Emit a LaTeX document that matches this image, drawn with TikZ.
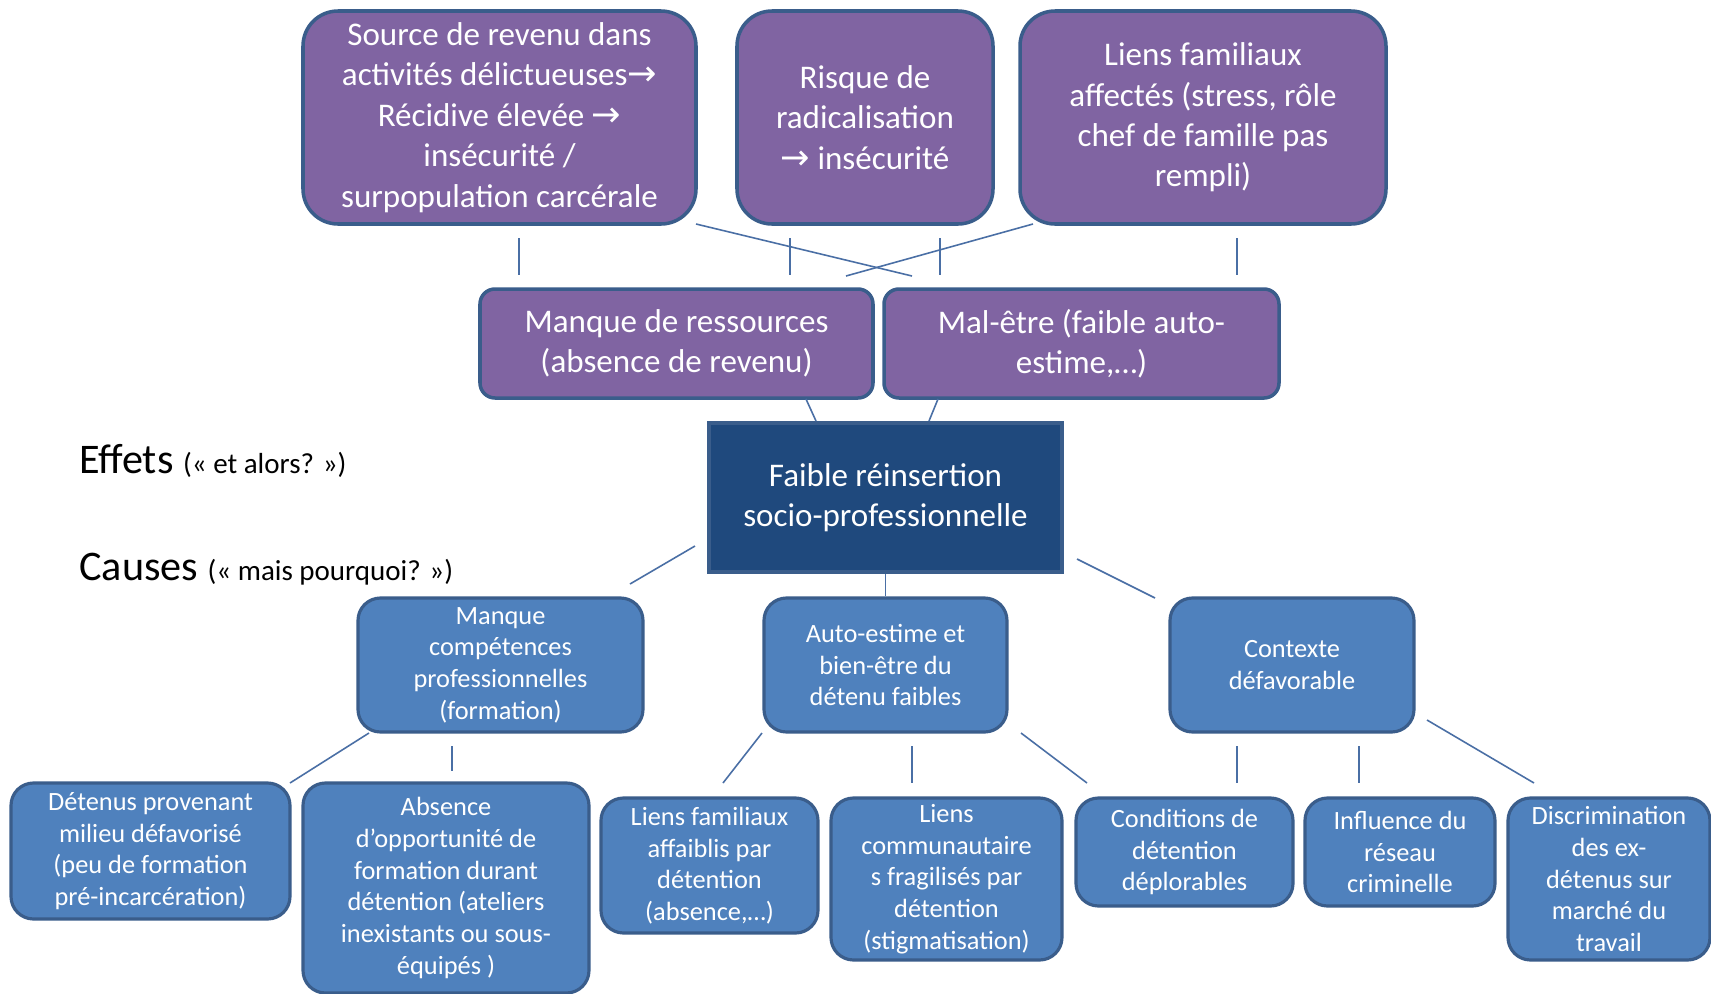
\documentclass[tikz,border=0pt]{standalone}
\usepackage{fontspec}
\setmainfont{Carlito}
\newfontfamily\flechefont{DejaVu Sans}
\usepackage{tikz}
\usetikzlibrary{
  calc,        % 坐标计算
  positioning  % 节点相对定位
}
\definecolor{couleurEffet}{HTML}{8064A2}
\definecolor{couleurCause}{HTML}{4F81BD}
\definecolor{couleurCentre}{HTML}{1F497D}
\definecolor{couleurBord}{HTML}{3A5D8B}
\definecolor{couleurLien}{HTML}{4A6FA5}
\newcommand{\fleche}{{\flechefont\fontsize{20}{23}\selectfont →}}

\begin{document}
\begin{tikzpicture}[
  effet/.style={draw=couleurBord, line width=2pt, fill=couleurEffet, text=white,
    rounded corners=0.7cm, align=center, inner sep=0pt,
    font=\fontsize{18.8}{23}\selectfont},
  cause/.style={draw=couleurBord, line width=1.8pt, fill=couleurCause, text=white,
    rounded corners=0.45cm, align=center, inner sep=0pt,
    font=\fontsize{15}{18}\selectfont},
  lien/.style={couleurLien, line width=0.9pt}
]

  % 背景与边界
  \path[fill=white, use as bounding box] (0,0) rectangle (34.22,-19.88);

  % =========== 效果：上层 ===========
  \node[effet, minimum width=7.86cm, minimum height=4.26cm] (revenu) at (9.99,-2.35)
    {Source de revenu dans\\activités délictueuses\fleche\\Récidive élevée \fleche\\insécurité /\\surpopulation carcérale};
  \node[effet, minimum width=5.12cm, minimum height=4.26cm] (radical) at (17.30,-2.35)
    {Risque de\\radicalisation\\\fleche{} insécurité};
  \node[effet, minimum width=7.32cm, minimum height=4.26cm] (famille) at (24.06,-2.35)
    {Liens familiaux\\affectés (stress, rôle\\chef de famille pas\\rempli)};

  % =========== 效果：中层 ===========
  \node[effet, rounded corners=0.3cm, minimum width=7.86cm, minimum height=2.18cm] (ressources) at (13.53,-6.87)
    {Manque de ressources\\(absence de revenu)};
  \node[effet, rounded corners=0.3cm, minimum width=7.90cm, minimum height=2.18cm] (malaise) at (21.63,-6.87)
    {Mal-être (faible auto-\\estime,…)};

  % =========== 核心问题 ===========
  \node[draw=couleurBord, line width=2pt, fill=couleurCentre, text=white, align=center,
    inner sep=0pt, minimum width=7.06cm, minimum height=2.98cm,
    font=\fontsize{18.8}{23}\selectfont] (centre) at (17.71,-9.95)
    {Faible réinsertion\\socio-professionnelle};

  % 左侧文字
  \node[anchor=base west, inner sep=0pt] (effets) at (1.58,-9.46)
    {\fontsize{24}{28}\selectfont Effets {\fontsize{16.5}{20}\selectfont(« et alors? »)}};
  \node[anchor=base west, inner sep=0pt] (causes) at (1.58,-11.60)
    {\fontsize{24}{28}\selectfont Causes {\fontsize{16.5}{20}\selectfont(« mais pourquoi? »)}};

  % =========== 原因：中层 ===========
  \node[cause, minimum width=5.70cm, minimum height=2.68cm] (competences) at (10.01,-13.30)
    {Manque\\compétences\\professionnelles\\(formation)};
  \node[cause, minimum width=4.86cm, minimum height=2.68cm] (estime) at (17.71,-13.30)
    {Auto-estime et\\bien-être du\\détenu faibles};
  \node[cause, minimum width=4.88cm, minimum height=2.68cm] (contexte) at (25.84,-13.30)
    {Contexte\\défavorable};

  % =========== 原因：下层 ===========
  \node[cause, minimum width=5.58cm, minimum height=2.72cm] (milieu) at (3.01,-17.02)
    {Détenus provenant\\milieu défavorisé\\(peu de formation\\pré-incarcération)};
  \node[cause, minimum width=5.72cm, minimum height=4.20cm] (ateliers) at (8.92,-17.76)
    {Absence\\d’opportunité de\\formation durant\\détention (ateliers\\inexistants ou sous-\\équipés )};
  \node[cause, minimum width=4.34cm, minimum height=2.70cm] (liensfam) at (14.19,-17.31)
    {Liens familiaux\\affaiblis par\\détention\\(absence,…)};
  \node[cause, minimum width=4.62cm, minimum height=3.24cm] (communaute) at (18.93,-17.58)
    {Liens\\communautaire\\s fragilisés par\\détention\\(stigmatisation)};
  \node[cause, minimum width=4.34cm, minimum height=2.16cm] (conditions) at (23.69,-17.04)
    {Conditions de\\détention\\déplorables};
  \node[cause, minimum width=3.80cm, minimum height=2.16cm] (reseau) at (28.00,-17.04)
    {Influence du\\réseau\\criminelle};
  \node[cause, minimum width=4.04cm, minimum height=3.24cm] (discrim) at (32.18,-17.58)
    {Discrimination\\des ex-\\détenus sur\\marché du\\travail};

  % =========== 连线：上层 ===========
  \coordinate (r1) at (10.38,-4.76);  \coordinate (r2) at (10.38,-5.50);
  \coordinate (q1) at (15.80,-4.76);  \coordinate (q2) at (15.80,-5.50);
  \coordinate (q3) at (18.80,-4.76);  \coordinate (q4) at (18.80,-5.50);
  \coordinate (f1) at (24.74,-4.76);  \coordinate (f2) at (24.74,-5.50);
  \coordinate (x1) at (13.92,-4.48);  \coordinate (x2) at (18.24,-5.52);
  \coordinate (x3) at (20.66,-4.48);  \coordinate (x4) at (16.92,-5.52);
  \draw[lien] (r1) -- (r2);
  \draw[lien] (q1) -- (q2);
  \draw[lien] (q3) -- (q4);
  \draw[lien] (f1) -- (f2);
  \draw[lien] (x1) -- (x2);
  \draw[lien] (x3) -- (x4);

  % 中层到核心
  \coordinate (m1) at (16.12,-7.98);  \coordinate (m2) at (16.32,-8.42);
  \coordinate (m3) at (18.76,-7.98);  \coordinate (m4) at (18.58,-8.42);
  \draw[lien] (m1) -- (m2);
  \draw[lien] (m3) -- (m4);

  % =========== 连线：原因 ===========
  \coordinate (c1) at (13.90,-10.92); \coordinate (c2) at (12.60,-11.68);
  \coordinate (c3) at (21.54,-11.18); \coordinate (c4) at (23.10,-11.96);
  \draw[lien] (c1) -- (c2);
  \draw[lien] (centre.south) -- (estime.north);
  \draw[lien] (c3) -- (c4);

  \coordinate (a1) at (7.38,-14.66);  \coordinate (a2) at (5.80,-15.66);
  \coordinate (a3) at (9.04,-14.92);  \coordinate (a4) at (9.04,-15.42);
  \coordinate (b1) at (15.24,-14.66); \coordinate (b2) at (14.46,-15.66);
  \coordinate (b3) at (18.24,-14.92); \coordinate (b4) at (18.24,-15.66);
  \coordinate (b5) at (20.42,-14.66); \coordinate (b6) at (21.74,-15.66);
  \coordinate (d1) at (24.74,-14.92); \coordinate (d2) at (24.74,-15.66);
  \coordinate (d3) at (27.18,-14.92); \coordinate (d4) at (27.18,-15.66);
  \coordinate (d5) at (28.54,-14.40); \coordinate (d6) at (30.68,-15.66);
  \draw[lien] (a1) -- (a2);
  \draw[lien] (a3) -- (a4);
  \draw[lien] (b1) -- (b2);
  \draw[lien] (b3) -- (b4);
  \draw[lien] (b5) -- (b6);
  \draw[lien] (d1) -- (d2);
  \draw[lien] (d3) -- (d4);
  \draw[lien] (d5) -- (d6);

\end{tikzpicture}
\end{document}
